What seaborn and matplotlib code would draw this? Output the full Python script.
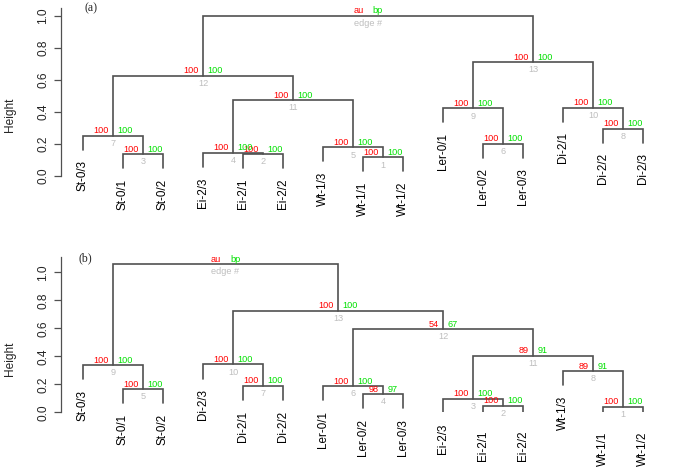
import matplotlib
matplotlib.use("Agg")
import matplotlib.pyplot as plt
import seaborn as sns

# panel (a)
leaves_a = ["St-0/3", "St-0/1", "St-0/2", "Ei-2/3", "Ei-2/1", "Ei-2/2", "Wt-1/3", "Wt-1/1",
            "Wt-1/2", "Ler-0/1", "Ler-0/2", "Ler-0/3", "Di-2/1", "Di-2/2", "Di-2/3"]
merge_a = [("Wt-1/1", "Wt-1/2"), ("Ei-2/1", "Ei-2/2"), ("St-0/1", "St-0/2"), ("Ei-2/3", 2),
           ("Wt-1/3", 1), ("Ler-0/2", "Ler-0/3"), ("St-0/3", 3), ("Di-2/2", "Di-2/3"),
           ("Ler-0/1", 6), ("Di-2/1", 8), (4, 5), (7, 11), (9, 10), (12, 13)]
height_a = [0.117, 0.136, 0.137, 0.146, 0.179, 0.201, 0.251, 0.295, 0.422, 0.426, 0.474, 0.626, 0.711, 1.0]
au_a = [100] * 13
bp_a = [100] * 13

# panel (b)
leaves_b = ["St-0/3", "St-0/1", "St-0/2", "Di-2/3", "Di-2/1", "Di-2/2", "Ler-0/1", "Ler-0/2",
            "Ler-0/3", "Ei-2/3", "Ei-2/1", "Ei-2/2", "Wt-1/3", "Wt-1/1", "Wt-1/2"]
merge_b = [("Wt-1/1", "Wt-1/2"), ("Ei-2/1", "Ei-2/2"), ("Ei-2/3", 2), ("Ler-0/2", "Ler-0/3"),
           ("St-0/1", "St-0/2"), ("Ler-0/1", 4), ("Di-2/1", "Di-2/2"), ("Wt-1/3", 1),
           ("St-0/3", 5), ("Di-2/3", 7), (3, 8), (6, 11), (10, 12), (9, 13)]
height_b = [0.040, 0.047, 0.097, 0.131, 0.166, 0.188, 0.190, 0.295, 0.338, 0.343, 0.404, 0.595, 0.726, 1.059]
au_b = [100, 100, 100, 98, 100, 100, 100, 89, 100, 100, 89, 54, 100]
bp_b = [100, 100, 100, 97, 100, 100, 100, 91, 100, 100, 91, 67, 100]

sns.set_theme(style="ticks")
plt.rcParams["font.family"] = ["Liberation Sans", "DejaVu Sans"]

LINE = "#505050"
RED = "#ff0000"
GREEN = "#00e000"
GRAY = "#bebebe"


def draw_tree(ax, leaves, merges, heights, au, bp, ytop):
    hang = 0.1 * (max(heights) - min(heights))
    pos = {}
    for i, name in enumerate(leaves):
        pos[name] = i + 1
    node_x = {}

    def child(c, h):
        if isinstance(c, str):
            x = pos[c]
            return x, h - hang, True
        return node_x[c], heights[c - 1], False

    for k, (l, r) in enumerate(merges, start=1):
        h = heights[k - 1]
        xl, yl, leaf_l = child(l, h)
        xr, yr, leaf_r = child(r, h)
        ax.plot([xl, xl, xr, xr], [yl, h, h, yr], color=LINE, lw=1.2, solid_joinstyle="miter")
        for x, y, is_leaf, c in [(xl, yl, leaf_l, l), (xr, yr, leaf_r, r)]:
            if is_leaf:
                ax.annotate(c, (x, y), xytext=(0, -7.5), textcoords="offset points",
                            rotation=90, ha="center", va="top", fontsize=8.4,
                            color="black", annotation_clip=False)
        xm = (xl + xr) / 2
        node_x[k] = xm
        if k < len(merges):
            top_l, top_r, low = str(au[k - 1]), str(bp[k - 1]), str(k)
        else:
            top_l, top_r, low = "au", "bp", "edge #"
        ax.annotate(top_l, (xm, h), xytext=(-3.3, 0.3), textcoords="offset points",
                    ha="right", va="bottom", fontsize=6.6, color=RED)
        ax.annotate(top_r, (xm, h), xytext=(3.3, 0.3), textcoords="offset points",
                    ha="left", va="bottom", fontsize=6.6, color=GREEN)
        ax.annotate(low, (xm, h), xytext=(0, -5.6), textcoords="offset points",
                    ha="center", va="center", fontsize=6.6, color=GRAY)

    ax.set_xlim(0.44, len(leaves) + 0.56)
    ax.set_ylim(0, ytop)
    ax.set_xticks([])
    ax.set_yticks([0, 0.2, 0.4, 0.6, 0.8, 1.0])
    ax.set_yticklabels(["0.0", "0.2", "0.4", "0.6", "0.8", "1.0"])
    ax.tick_params(axis="y", labelrotation=90, length=5, width=0.9, color=LINE,
                   labelsize=8.6, pad=3)
    for lab in ax.get_yticklabels():
        lab.set_va("center")
    for s in ["top", "right", "bottom"]:
        ax.spines[s].set_visible(False)
    ax.spines["left"].set_color(LINE)
    ax.spines["left"].set_linewidth(0.9)
    ax.spines["left"].set_bounds(0, ytop)
    ax.set_ylabel("Height", fontsize=8.6)
    ax.patch.set_alpha(0)


fig = plt.figure(figsize=(6.97, 4.73), dpi=100)
W, H = 697, 473
ax1 = fig.add_axes([60.6 / W, 1 - 176 / H, 604.8 / W, 167.7 / H])
ax2 = fig.add_axes([60.6 / W, 1 - 412.3 / H, 604.8 / W, 155.7 / H])

draw_tree(ax1, leaves_a, merge_a, height_a, au_a, bp_a, 1.046)
draw_tree(ax2, leaves_b, merge_b, height_b, au_b, bp_b, 1.112)

ax1.yaxis.set_label_coords(-0.074, 0.367)
ax2.yaxis.set_label_coords(-0.074, 0.342)

fig.text(91 / W, 1 - 8 / H, "(a)", family=["Liberation Serif"], fontsize=8.6,
         ha="center", va="center")
fig.text(85 / W, 1 - 258 / H, "(b)", family=["Liberation Serif"], fontsize=8.6,
         ha="center", va="center")

fig.savefig("out.png", dpi=100)
